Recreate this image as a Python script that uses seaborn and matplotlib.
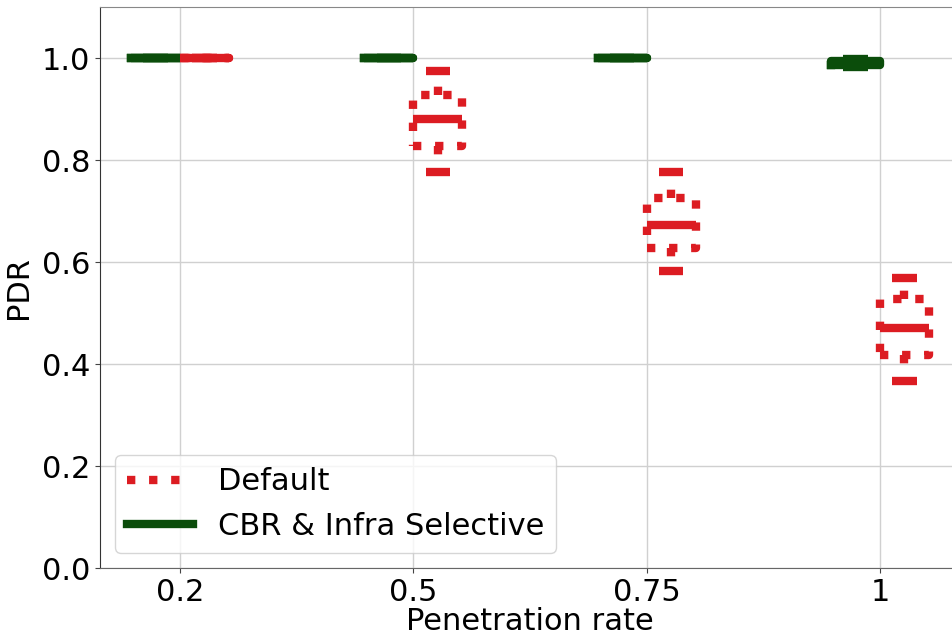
import matplotlib
matplotlib.use("Agg")
import matplotlib.pyplot as plt
from matplotlib.lines import Line2D
import pandas as pd
import seaborn as sns

# %%
rates = ["0.2", "0.5", "0.75", "1"]
schemes = ["CBR & Infra Selective", "Default"]
colors = {"CBR & Infra Selective": "#0b4d0b", "Default": "#dc1c22"}

# PDR samples per penetration rate (min, q1, median, q3, max)
pdr_default = {
    "0.2": [1.0, 1.0, 1.0, 1.0, 1.0],
    "0.5": [0.776, 0.827, 0.880, 0.928, 0.975],
    "0.75": [0.582, 0.627, 0.673, 0.725, 0.776],
    "1": [0.367, 0.418, 0.470, 0.527, 0.569],
}
pdr_cbr = {
    "0.2": [1.0, 1.0, 1.0, 1.0, 1.0],
    "0.5": [1.0, 1.0, 1.0, 1.0, 1.0],
    "0.75": [1.0, 1.0, 1.0, 1.0, 1.0],
    "1": [0.982, 0.986, 0.990, 0.994, 0.998],
}


def to_frame(values, scheme):
    rows = [(r, v, scheme) for r in rates for v in values[r]]
    return pd.DataFrame(rows, columns=["rate", "pdr", "scheme"])


df_cbr = to_frame(pdr_cbr, "CBR & Infra Selective")
df_default = to_frame(pdr_default, "Default")

# %%
fig = plt.figure(figsize=(9.52, 6.37), dpi=100)
ax = fig.add_axes([0.105, 0.1083, 0.9034, 0.8807])

common = dict(
    x="rate", y="pdr", hue="scheme", order=rates, hue_order=schemes,
    palette=colors, fill=False, width=0.42, gap=0, dodge=True,
    linewidth=6, showfliers=False, legend=False, ax=ax,
    medianprops={"solid_capstyle": "butt"},
    capprops={"solid_capstyle": "butt"},
)

sns.boxplot(data=df_cbr, **common)
sns.boxplot(
    data=df_default,
    boxprops={"linestyle": ":"},
    whiskerprops={"linestyle": ":"},
    **common,
)

ax.set_xlim(-0.343, 3.343)
ax.set_ylim(0, 1.1)
ax.set_yticks([0.0, 0.2, 0.4, 0.6, 0.8, 1.0])
ax.grid(True, color="#d0d0d0", linewidth=1)
ax.set_axisbelow(True)
ax.tick_params(labelsize=22, length=3.5, color="#444444")

ax.spines["left"].set_color("#333333")
ax.spines["bottom"].set_color("#666666")
ax.spines["top"].set_color("#888888")
ax.spines["right"].set_visible(False)

ax.set_xlabel("Penetration rate", fontsize=22, labelpad=0)
ax.set_ylabel("PDR", fontsize=22, labelpad=6)

handles = [
    Line2D([], [], color=colors["Default"], linestyle=":", linewidth=6),
    Line2D([], [], color=colors["CBR & Infra Selective"], linewidth=6),
]
ax.legend(handles, ["Default", "CBR & Infra Selective"], loc="lower left",
          fontsize=22, handlelength=2.15, edgecolor="#cccccc")

plt.savefig("out.png", dpi=100)
